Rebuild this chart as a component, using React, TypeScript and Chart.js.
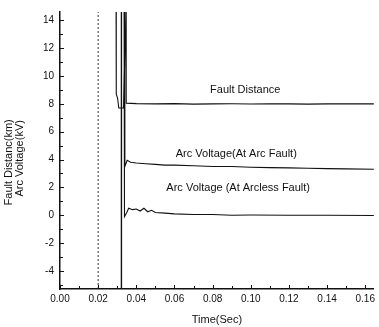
import React, { useEffect, useRef } from "react";
import { Chart, registerables } from "chart.js";

Chart.register(...registerables);

// ---- data ----
const markerX = [0.02, 0.02];
const markerY = [-5.3, 14.6];

const switchX = [0.0322, 0.0322];
const switchY = [-5.3, 14.6];

const faultDistX = [0.0294, 0.0295, 0.0302, 0.0308, 0.0333, 0.0346, 0.0347, 0.04, 0.05, 0.06, 0.07, 0.08, 0.09, 0.1, 0.11, 0.12, 0.13, 0.14, 0.15, 0.165];
const faultDistY = [14.6, 8.7, 8.4, 7.7, 7.7, 14.6, 8.05, 8.02, 8.0, 8.02, 7.98, 8.0, 8.01, 7.99, 8.0, 8.0, 7.98, 8.0, 8.0, 8.0];

const arcFaultX = [0.0339, 0.034, 0.0352, 0.037, 0.04, 0.045, 0.05, 0.055, 0.06, 0.07, 0.08, 0.09, 0.1, 0.11, 0.12, 0.13, 0.14, 0.15, 0.165];
const arcFaultY = [14.6, 3.5, 3.95, 3.8, 3.75, 3.7, 3.65, 3.6, 3.6, 3.55, 3.5, 3.5, 3.45, 3.42, 3.4, 3.38, 3.35, 3.33, 3.3];

const arclessX = [0.0336, 0.0338, 0.035, 0.036, 0.038, 0.04, 0.042, 0.044, 0.046, 0.048, 0.05, 0.055, 0.06, 0.07, 0.08, 0.09, 0.1, 0.12, 0.14, 0.165];
const arclessY = [14.6, -0.1, 0.2, 0.5, 0.4, 0.45, 0.3, 0.5, 0.25, 0.35, 0.2, 0.15, 0.1, 0.05, 0.05, 0.0, 0.02, 0.0, 0.0, -0.02];

const xTicks = [0, 0.02, 0.04, 0.06, 0.08, 0.1, 0.12, 0.14, 0.16];
const xTickLabels = ["0.00", "0.02", "0.04", "0.06", "0.08", "0.10", "0.12", "0.14", "0.16"];
const yTicks = [-4, -2, 0, 2, 4, 6, 8, 10, 12, 14];

const yTitleLines = ["Fault Distanc(km)", "Arc Voltage(kV)"];

const labelTexts = ["Fault Distance", "Arc Voltage(At Arc Fault)", "Arc Voltage (At Arcless Fault)"];
const labelX = [0.0971, 0.0924, 0.0934];
const labelY = [9.0, 4.4, 1.95];

const pts = (xs: number[], ys: number[]) => xs.map((x, i) => ({ x, y: ys[i] }));

export default function App() {
  const ref = useRef<HTMLCanvasElement | null>(null);
  useEffect(() => {
    document.body.style.margin = "0";
    const font = "'Liberation Sans', Arial, sans-serif";
    const annot = {
      id: "annot",
      afterDatasetsDraw(chart: any) {
        const { ctx, scales } = chart;
        ctx.save();
        // minor ticks
        ctx.strokeStyle = "#111";
        ctx.lineWidth = 1;
        const xs = scales.x, ys = scales.y;
        const base = ys.getPixelForValue(-5.3);
        for (let v = 0.01; v < 0.165; v += 0.02) {
          const p = Math.round(xs.getPixelForValue(v)) + 0.5;
          ctx.beginPath(); ctx.moveTo(p, base); ctx.lineTo(p, base - 3); ctx.stroke();
        }
        const left = xs.getPixelForValue(0);
        for (let v = -5; v <= 14; v += 2) {
          const p = Math.round(ys.getPixelForValue(v)) + 0.5;
          ctx.beginPath(); ctx.moveTo(left, p); ctx.lineTo(left + 3, p); ctx.stroke();
        }
        for (const v of yTicks) {
          const p = Math.round(ys.getPixelForValue(v)) + 0.5;
          ctx.beginPath(); ctx.moveTo(left, p); ctx.lineTo(left + 4, p); ctx.stroke();
        }
        for (const v of xTicks) {
          const p = Math.round(xs.getPixelForValue(v)) + 0.5;
          ctx.beginPath(); ctx.moveTo(p, base); ctx.lineTo(p, base - 4); ctx.stroke();
        }
        ctx.fillStyle = "#111";
        ctx.font = "11px " + font;
        ctx.textAlign = "center";
        ctx.textBaseline = "middle";
        labelTexts.forEach((t, i) => {
          ctx.fillText(t, xs.getPixelForValue(labelX[i]), ys.getPixelForValue(labelY[i]));
        });
        // y title (two rotated lines)
        const cy = ys.getPixelForValue(3.8);
        yTitleLines.forEach((t, i) => {
          ctx.save();
          ctx.translate(9 + i * 11, cy - i * 4);
          ctx.rotate(-Math.PI / 2);
          ctx.fillText(t, 0, 0);
          ctx.restore();
        });
        ctx.restore();
      },
    };
    const line = (data: any, opts: any = {}) => ({
      data,
      borderColor: "#111",
      borderWidth: 1.2,
      pointRadius: 0,
      showLine: true,
      fill: false,
      tension: 0,
      ...opts,
    });
    const chart = new Chart(ref.current as HTMLCanvasElement, {
      type: "scatter",
      data: {
        datasets: [
          line(pts(markerX, markerY), { borderDash: [2, 2], borderWidth: 1, borderColor: "#333" }),
          line(pts(switchX, switchY), { borderWidth: 1.4 }),
          line(pts(faultDistX, faultDistY), { borderWidth: 1.1 }),
          line(pts(arcFaultX, arcFaultY), { borderWidth: 1.1 }),
          line(pts(arclessX, arclessY), { borderWidth: 1.1 }),
        ],
      },
      plugins: [annot],
      options: {
        responsive: false,
        animation: false,
        layout: { padding: { top: 10, right: 1, left: 0, bottom: 0 } },
        plugins: { legend: { display: false }, tooltip: { enabled: false } },
        scales: {
          x: {
            type: "linear",
            min: 0,
            max: 0.1645,
            afterBuildTicks: (s: any) => { s.ticks = xTicks.map((v) => ({ value: v })); },
            afterFit: (s: any) => { s.height = 38; },
            ticks: {
              color: "#111",
              font: { family: font, size: 10 },
              padding: 4,
              maxRotation: 0,
              callback: (v: any) => { const i = xTicks.findIndex((t) => Math.abs(t - v) < 1e-9); return i >= 0 ? xTickLabels[i] : ""; },
            },
            grid: { display: true, drawOnChartArea: false, drawTicks: false, color: "#111" },
            border: { display: true, color: "#111", width: 1.5 },
            title: { display: true, text: "Time(Sec)", color: "#111", font: { family: font, size: 11 }, padding: { top: 4, bottom: 0 } },
          },
          y: {
            type: "linear",
            min: -5.3,
            max: 14.6,
            afterBuildTicks: (s: any) => { s.ticks = yTicks.map((v) => ({ value: v })); },
            afterFit: (s: any) => { s.width = 60; },
            ticks: {
              color: "#111",
              font: { family: font, size: 10 },
              padding: 6,
              callback: (v: any) => String(v),
            },
            grid: { display: true, drawOnChartArea: false, drawTicks: false, color: "#111" },
            border: { display: true, color: "#111", width: 1.5 },
            title: { display: false },
          },
        },
      },
    });
    return () => chart.destroy();
  }, []);
  return (
    <div style={{ width: 379, height: 327, background: "#fff" }}>
      <canvas ref={ref} width={379} height={327} style={{ display: "block" }} />
    </div>
  );
}
